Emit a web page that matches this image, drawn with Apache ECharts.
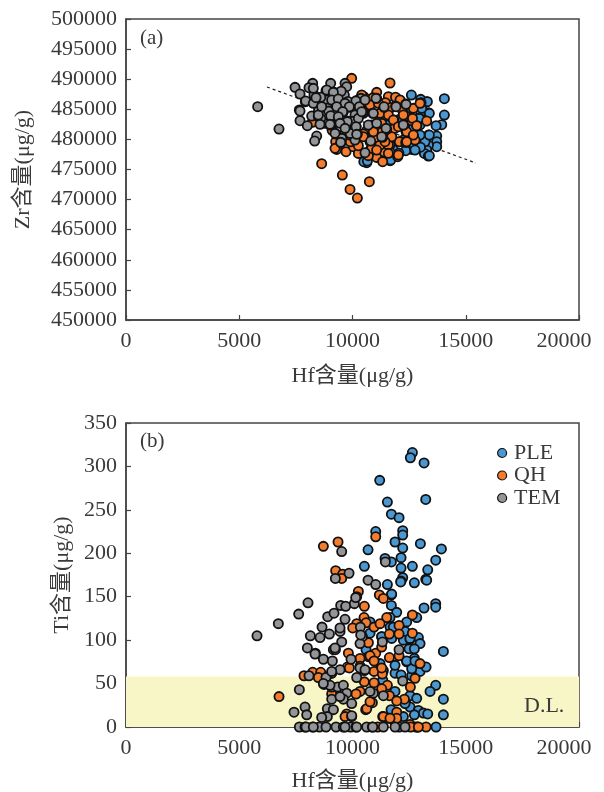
<!DOCTYPE html>
<html><head><meta charset="utf-8">
<style>html,body{margin:0;padding:0;background:#fff}#c{width:604px;height:792px}</style>
<script src="https://cdn.jsdelivr.net/npm/echarts@6/dist/echarts.min.js"></script></head>
<body><div id="c"></div><script>
const hfTicks=[0,5000,10000,15000,20000];
const trend=[[6225,488700],[15450,476080]];
const zrPLE=[[10627,476127],[12599,487373],[14056,486764],[14056,484048],[13939,482443],[13689,482276],[13276,486265],[13011,486653],[13350,484438],[13011,484604],[13350,480725],[13718,480559],[13718,479617],[13718,478786],[13350,479063],[13276,478232],[13173,477678],[13350,477235],[12613,478343],[12349,478121],[11657,476459],[10627,481445],[11215,479600],[12835,480900],[12246,479900],[13202,479617],[12760,481800],[11950,486700],[12980,482400],[10500,476300],[11100,480500],[11800,478300],[12100,483400],[12500,485000],[12950,483500],[12400,481500],[11500,482500],[12700,479200],[13000,478700],[12050,477700],[10774,481281],[10656,476406],[11039,480727],[10774,479619],[13305,486267],[13393,484328],[13393,480727],[13393,477292],[12760,478234],[11686,476572],[12981,480727],[10773,481558],[11656,479065],[12098,479619],[12687,481835],[13055,485159],[12540,483497]];
const zrQH=[[9964,490143],[11657,489367],[8639,475961],[9552,474077],[10744,472969],[9891,471695],[10215,470254],[9302,478343],[9714,477955],[10038,478786],[10259,477678],[10803,478343],[11068,477013],[11333,476293],[11392,477955],[11657,477844],[11995,477124],[11731,480448],[12687,480559],[12364,481279],[12835,482276],[12613,483107],[13276,483051],[12349,483938],[11834,483218],[11510,483883],[11215,484326],[10700,485822],[11068,487816],[11584,487096],[12099,486431],[13026,486099],[12687,485157],[11289,482664],[10479,480891],[12069,479617],[10850,482400],[9302,479617],[11068,478509],[11584,479063],[10900,486900],[10500,487100],[10600,484700],[11900,487000],[12200,484900],[11000,480300],[11200,479000],[11850,481800],[12350,479500],[10100,480400],[9900,479600],[10700,477300],[11450,486100],[12650,483500],[9100,481500],[9600,480800],[8500,482900],[10300,486700],[11700,485300],[11300,481200],[10406,487375],[10774,485713],[11142,485990],[7653,484882],[10479,484328],[8227,482832],[9258,479619],[9228,478511],[10259,478954],[9891,480727],[10479,480450],[10847,478511],[12098,486544],[12981,485990],[11583,484051],[11803,483220],[12245,484051],[12834,482278],[10920,481281],[11730,480450],[12392,481281],[12760,479896],[12392,479619],[12687,480727],[11067,478234],[11583,477680],[12024,477403],[11435,479619],[12024,482112]];
const zrTEM=[[5813,485434],[6755,481722],[7462,488647],[7683,487540],[8242,489312],[8080,488592],[7918,486265],[7683,484714],[7683,483107],[8006,482276],[8198,483883],[8566,485545],[8419,480559],[8330,479727],[9037,489312],[8831,488093],[9184,487816],[9670,489312],[9743,488758],[9640,487373],[8890,486542],[9200,486500],[9331,485434],[9891,485323],[9596,484604],[9125,483883],[8492,483800],[8787,482664],[9007,482387],[9773,483051],[10111,484048],[10479,484604],[10376,486819],[11068,486819],[10892,484326],[10700,482387],[11068,482664],[10156,482110],[9272,480891],[9522,480171],[9493,479451],[10215,480891],[10111,479894],[10803,479727],[11333,480338],[11510,481667],[10553,477789],[11392,485323],[11907,485545],[12349,485877],[12246,482387],[8300,487400],[8600,487000],[8900,485200],[9450,486000],[9250,484300],[8600,483500],[8950,484700],[9700,482000],[10000,483000],[9800,486300],[10150,486400],[9500,488000],[8500,484800],[9400,482800],[9900,481000],[7933,486378],[8271,485990],[8492,484051],[8271,488483],[8389,486932],[8860,488206],[9155,487818],[9081,486544],[9375,486710],[9670,485990],[8639,485436],[9302,485436],[9861,485436],[10303,485436],[9037,483940],[9567,484605],[9375,483774],[9773,482943],[10259,483497],[10406,484605],[10921,484328],[8566,482500],[9007,482500],[9449,482666],[10156,482112],[9670,481835],[10185,480838],[9228,481004],[9478,479508],[10553,486544],[11039,486821],[11391,485436],[11921,485436],[12363,485824],[11480,481835],[12245,482389],[11288,480450]];
const tiPLE=[[12644,316],[12555,310],[13159,304],[11201,284],[13233,262],[11540,259],[11716,245],[12055,241],[11025,225],[12217,226],[12217,221],[11878,213],[12217,206],[12997,211],[13925,205],[10686,204],[12144,195],[11716,190],[11437,194],[13674,192],[10524,185],[12144,183],[12644,185],[13321,181],[12217,172],[12144,168],[12732,166],[13233,170],[11540,164],[11716,152],[11716,140],[13159,137],[13674,142],[13674,138],[11952,132],[12835,126],[12393,121],[11658,115],[12320,110],[10774,108],[11290,104],[12246,100],[12909,103],[12982,96],[12541,101],[10598,89],[12496,90],[12732,90],[14013,87],[10701,81],[12393,75],[12732,79],[11216,73],[12644,66],[12982,64],[13248,69],[11878,62],[12144,60],[12614,59],[11334,54],[13674,48],[13424,41],[14013,32],[12541,36],[12835,33],[12349,28],[12541,23],[11702,20],[12909,19],[13130,16],[13321,15],[14013,14],[12732,14],[12246,12],[11878,6],[13689,0],[12127,167],[13275,169],[11730,153],[11656,126],[10773,121],[11288,104],[11730,102],[12539,102],[11803,115],[11362,65],[12613,67],[11877,71],[12392,76],[12760,76],[12319,27],[11877,41],[12877,0],[12060,0]];
const tiQH=[[8714,208],[9361,213],[11025,219],[9258,180],[9567,176],[9523,171],[10259,156],[11186,152],[11363,148],[10524,139],[12644,129],[11511,126],[10509,126],[10598,120],[10186,119],[10009,114],[10951,115],[11216,119],[12055,117],[11628,107],[12055,107],[12644,108],[10701,97],[9818,85],[11025,85],[10774,82],[10951,76],[11628,80],[12055,82],[12982,73],[10333,79],[9774,69],[10333,70],[10951,64],[11319,61],[12761,56],[7860,59],[8242,63],[8596,63],[8493,57],[10524,52],[10951,51],[11540,48],[11290,44],[10333,41],[10156,38],[6756,35],[12555,46],[11628,36],[12290,32],[11952,30],[10877,28],[10583,20],[11952,17],[9744,15],[9671,12],[11334,12],[11628,10],[11952,10],[11112,0],[12541,3],[12806,0],[13248,0],[11288,92],[11288,68],[9861,68],[9964,12],[9081,38],[10627,21],[12569,0],[12907,0],[11362,12],[11656,10],[9081,62],[10774,29]];
const tiTEM=[[9523,202],[9847,177],[9244,171],[10686,169],[11025,164],[11452,190],[8036,143],[7624,130],[6726,119],[5784,105],[9479,140],[9700,139],[10083,142],[10186,150],[8905,127],[9185,131],[9670,124],[8655,115],[8140,105],[8566,103],[8979,107],[9450,110],[10348,115],[10436,104],[10333,96],[11319,98],[8007,91],[8360,85],[9156,89],[9244,89],[8714,78],[9111,76],[9935,78],[10524,65],[9450,66],[8080,59],[9082,62],[8831,57],[10186,57],[12055,89],[12217,53],[7654,43],[8743,49],[9082,46],[9347,46],[9597,48],[9744,39],[10921,39],[11363,36],[9082,32],[9597,32],[9965,27],[7904,23],[7418,17],[7978,14],[8890,21],[9156,20],[8890,12],[8640,11],[9965,13],[7654,0],[7904,0],[8242,0],[8537,0],[8831,0],[9273,0],[9597,0],[9921,0],[10156,0],[10627,0],[10877,0],[11363,0],[11878,0],[12320,0],[10141,149],[9449,114],[9523,98],[9228,91],[8345,84],[10362,106],[9081,64],[9007,48],[8713,50],[9449,35],[10332,68],[10553,66],[10774,41],[7948,0],[8271,0],[9670,0],[10185,0],[10892,0]];
const seriesNames=['PLE','QH','TEM'];
const seriesColors=['#4a97d2','#f47c2c','#939598'];
const F='"Liberation Serif","Noto Sans CJK SC",serif',C='#3a3a3a',A='#444';
const xax=(g,gap)=>({type:'value',gridIndex:g,min:0,max:20000,interval:5000,splitLine:{show:false},
 axisLine:{onZero:false,lineStyle:{color:A,width:1.5}},axisTick:{inside:true,length:5,lineStyle:{color:A,width:1.2}},
 axisLabel:{color:C,fontFamily:F,fontSize:22,margin:10,showMinLabel:true,showMaxLabel:true,hideOverlap:false,
  formatter:v=>v===20000?'{m|20000}':String(v),rich:{m:{color:C,fontFamily:F,fontSize:22,padding:[0,30,0,0]}}},
 name:'Hf含量(μg/g)',nameLocation:'middle',nameGap:gap,nameTextStyle:{color:C,fontFamily:F,fontSize:22}});
const yax=(g,min,max,iv,n,gap)=>({type:'value',gridIndex:g,min,max,interval:iv,splitLine:{show:false},
 axisLine:{onZero:false,lineStyle:{color:A,width:1.5}},axisTick:{inside:true,length:5,lineStyle:{color:A,width:1.2}},
 axisLabel:{color:C,fontFamily:F,fontSize:22,margin:9,showMinLabel:true,showMaxLabel:true,hideOverlap:false,formatter:v=>String(v)},
 name:n,nameLocation:'middle',nameGap:gap,nameTextStyle:{color:C,fontFamily:F,fontSize:22}});
const sc=(i,d,g)=>({name:seriesNames[i],type:'scatter',xAxisIndex:g,yAxisIndex:g,data:d,symbol:'circle',symbolSize:9.2,clip:false,z:3+i,
 itemStyle:{color:seriesColors[i],borderColor:'#111',borderWidth:1.8,opacity:1}});
const chart=echarts.init(document.getElementById('c'),null,{renderer:'canvas'});
chart.setOption({animation:false,backgroundColor:'#fff',
 grid:[{left:126,right:25,top:19,height:301,show:true,borderColor:A,borderWidth:1.5,outerBoundsMode:'none'},
       {left:126,right:25,top:423,height:304,show:true,borderColor:A,borderWidth:1.5,outerBoundsMode:'none'}],
 xAxis:[xax(0,45),xax(1,43)],
 yAxis:[yax(0,450000,500000,5000,'Zr含量(μg/g)',92),yax(1,0,350,50,'Ti含量(μg/g)',53)],
 legend:{data:seriesNames.map(n=>({name:n,icon:'circle',itemStyle:{borderColor:'#111',borderWidth:1.2}})),orient:'vertical',left:492,top:437,itemWidth:10,itemHeight:9,itemGap:0.5,
  textStyle:{color:C,fontFamily:F,fontSize:22,lineHeight:22,padding:[0,0,0,2]}},
 graphic:[
  {type:'text',left:140,top:28,style:{text:'(a)',fill:C,font:'21px '+F}},
  {type:'text',left:140,top:431,style:{text:'(b)',fill:C,font:'21px '+F}},
  {type:'text',left:524,top:695,z:20,style:{text:'D.L.',fill:C,font:'22px '+F}}],
 series:[
  {type:'line',xAxisIndex:0,yAxisIndex:0,data:trend,symbol:'none',z:2,lineStyle:{color:'#222',width:1.2,type:[3,3]}},
  sc(0,zrPLE,0),sc(1,zrQH,0),sc(2,zrTEM,0),
  Object.assign(sc(0,tiPLE,1),{markArea:{silent:true,z:1,itemStyle:{color:'#f8f5c6',opacity:1},data:[[{yAxis:0},{yAxis:58}]]}}),
  sc(1,tiQH,1),sc(2,tiTEM,1)]});
</script></body></html>
